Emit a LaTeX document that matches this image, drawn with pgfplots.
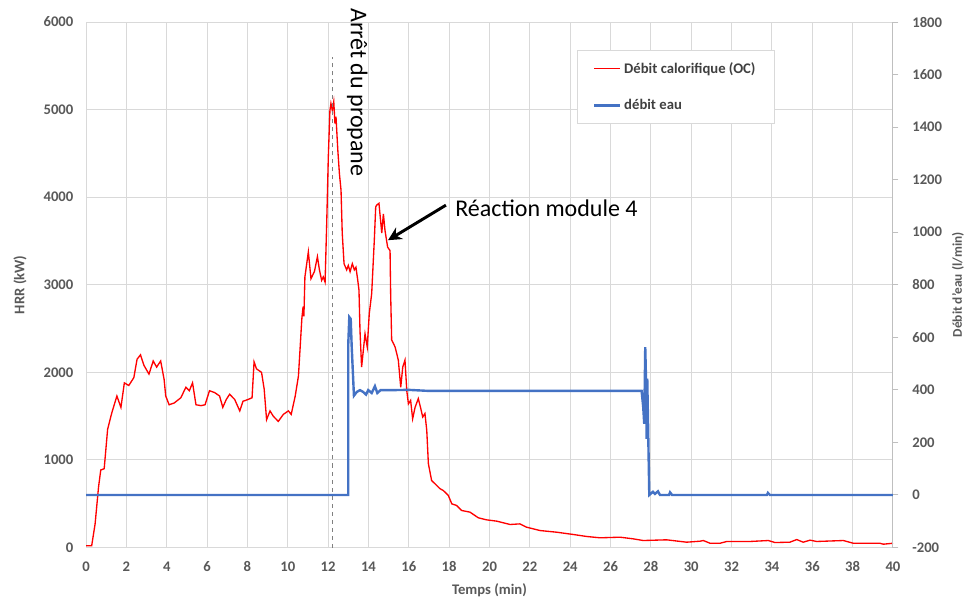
\documentclass[border=0pt]{standalone}
\usepackage{pgfplots}
\pgfplotsset{compat=1.18}
\usepackage{pgfplotstable}
\usetikzlibrary{arrows.meta}
\usepackage{fontspec}
\setmainfont{Carlito}
\definecolor{gridc}{HTML}{D9D9D9}
\definecolor{axc}{HTML}{BFBFBF}
\definecolor{tickc}{HTML}{595959}
\definecolor{legc}{HTML}{404040}
\definecolor{hrr}{HTML}{FF0000}
\definecolor{eau}{HTML}{4472C4}

\pgfplotstableread{
t v
0 20
0.28 20
0.45 270
0.62 690
0.73 885
0.9 900
1.07 1350
1.28 1540
1.53 1730
1.73 1600
1.9 1880
2.12 1850
2.37 1940
2.53 2150
2.7 2200
2.87 2080
3.12 1980
3.33 2130
3.5 2060
3.7 2130
3.87 1920
3.95 1730
4.12 1630
4.37 1650
4.7 1710
4.95 1830
5.12 1790
5.28 1880
5.45 1630
5.7 1620
5.9 1630
6.12 1790
6.37 1770
6.62 1730
6.78 1600
6.95 1690
7.12 1750
7.37 1690
7.62 1560
7.78 1670
8.03 1690
8.23 1710
8.33 2120
8.45 2040
8.7 2000
8.83 1810
8.95 1460
9.12 1560
9.28 1500
9.53 1440
9.78 1520
10.03 1560
10.17 1520
10.37 1730
10.53 1960
10.7 2620
10.76 2750
10.8 2640
10.85 3090
11.02 3375
11.15 3070
11.32 3150
11.47 3320
11.57 3170
11.68 3050
11.76 3090
11.85 3030
11.93 3700
12.01 4460
12.09 4990
12.14 5070
12.21 4990
12.28 5090
12.34 4840
12.39 4920
12.48 4540
12.56 4270
12.64 4080
12.7 3590
12.79 3240
12.92 3170
13.0 3220
13.09 3150
13.2 3240
13.3 3170
13.38 3200
13.47 3050
13.53 2940
13.58 2480
13.66 2060
13.83 2440
13.94 2290
14.04 2670
14.16 2900
14.29 3510
14.36 3890
14.41 3910
14.52 3930
14.66 3590
14.74 3810
14.82 3620
14.95 3430
15.07 3390
15.1 2900
15.15 2370
15.32 2290
15.48 2140
15.6 1830
15.7 2060
15.81 2140
15.9 1790
15.98 1640
16.09 1680
16.19 1470
16.31 1600
16.47 1700
16.59 1590
16.69 1490
16.8 1530
16.89 1337
16.97 957
17.13 766
17.38 709
17.55 671
17.71 651
17.96 594
18.13 499
18.37 480
18.62 423
19.03 404
19.45 339
19.86 316
20.36 301
21.02 263
21.51 270
21.84 232
22.5 194
23.33 175
24.15 149
24.82 126
25.48 111
26.47 118
27.13 99
27.62 80
28.78 88
29.77 61
30.43 72
30.6 80
30.93 49
31.43 49
31.76 69
32.91 69
33.82 80
34.15 57
34.89 61
35.23 91
35.55 61
35.89 84
36.22 69
37.54 80
38.03 49
39.35 49
39.52 38
40 49
}\hrrdata

\pgfplotstableread{
t q
0 0
13.0 0
13.0 576
13.05 677
13.12 670
13.17 563
13.28 378
13.42 392
13.58 399
13.74 392
13.88 382
13.99 399
14.16 388
14.32 414
14.44 388
14.6 399
15.1 399
16 400
17 396
20 396
24 396
27.54 396
27.62 334
27.67 271
27.72 563
27.76 436
27.79 214
27.82 443
27.92 0
28.1 12
28.2 4
28.35 14
28.45 0
28.9 0
28.95 10
29.05 0
33.75 0
33.8 8
33.9 0
40 0
}\eaudata

\begin{document}
\begin{tikzpicture}
\useasboundingbox (-64.5pt,-43pt) rectangle (660.5pt,410.5pt);
\begin{axis}[
  at={(0,0)}, anchor=south west,
  scale only axis, width=605pt, height=394pt,
  xmin=0, xmax=40, ymin=0, ymax=6000,
  xtick={0,2,...,40}, ytick={0,1000,...,6000},
  grid=major, grid style={gridc, line width=0.75pt},
  axis line style={draw=none}, tick style={draw=none},
  /pgf/number format/assume math mode=true,
  /pgf/number format/1000 sep={},
  ticklabel style={font=\bfseries\fontsize{11}{13}\selectfont, text=tickc},
  xticklabel style={yshift=-7pt}, yticklabel style={xshift=-6pt},
  xlabel={Temps (min)}, ylabel={HRR (kW)},
  label style={font=\bfseries\fontsize{11}{13}\selectfont, text=tickc},
  xlabel style={at={(axis description cs:0.5,-0.0819)}, anchor=center},
  ylabel style={at={(axis description cs:-0.0818,0.5)}, anchor=center},
  clip=false,
]
\addplot[hrr, line width=1pt] table[x=t, y=v] {\hrrdata};
\draw[gray, dashed, line width=0.6pt] (axis cs:12.23,0) -- (axis cs:12.23,5600);
\node[rotate=-90, anchor=west, inner sep=0pt, font=\fontsize{18}{20}\selectfont] at (axis cs:13.45,6160) {Arrêt du propane};
\node[anchor=west, inner sep=0pt, font=\fontsize{18}{20}\selectfont] at (axis cs:18.29,3874) {Réaction module 4};
\draw[-{Stealth[length=10pt,width=10pt]}, line width=2.2pt] (axis cs:17.84,3909) -- (axis cs:14.97,3509);
\end{axis}
\begin{axis}[
  at={(0,0)}, anchor=south west,
  scale only axis, width=605pt, height=394pt,
  xmin=0, xmax=40, ymin=-200, ymax=1800,
  axis x line=none, axis y line*=right,
  ytick={-200,0,...,1800},
  y axis line style={draw=axc, line width=0.75pt},
  tick align=outside, major tick length=4pt,
  ytick style={draw=axc, line width=0.75pt},
  /pgf/number format/assume math mode=true,
  /pgf/number format/1000 sep={},
  ticklabel style={font=\bfseries\fontsize{11}{13}\selectfont, text=tickc},
  yticklabel style={xshift=7pt},
  ylabel={Débit d'eau (l/min)},
  label style={font=\bfseries\fontsize{10}{12}\selectfont, text=tickc},
  ylabel style={at={(axis description cs:1.0805,0.5)}, anchor=center},
  clip=false,
  legend cell align=left,
  legend image code/.code={\draw[#1] (0pt,0pt) -- (19.5pt,0pt);},
  legend style={at={(0.608,0.947)}, anchor=north west, draw=gridc, line width=0.75pt,
    font=\bfseries\fontsize{11}{13}\selectfont, text=legc,
    inner xsep=12pt, inner ysep=7pt, row sep=14pt},
]
\addlegendimage{hrr, line width=1pt}
\addlegendentry{Débit calorifique (OC)}
\addplot[eau, line width=1.8pt] table[x=t, y=q] {\eaudata};
\addlegendentry{débit eau}
\end{axis}
\end{tikzpicture}
\end{document}
